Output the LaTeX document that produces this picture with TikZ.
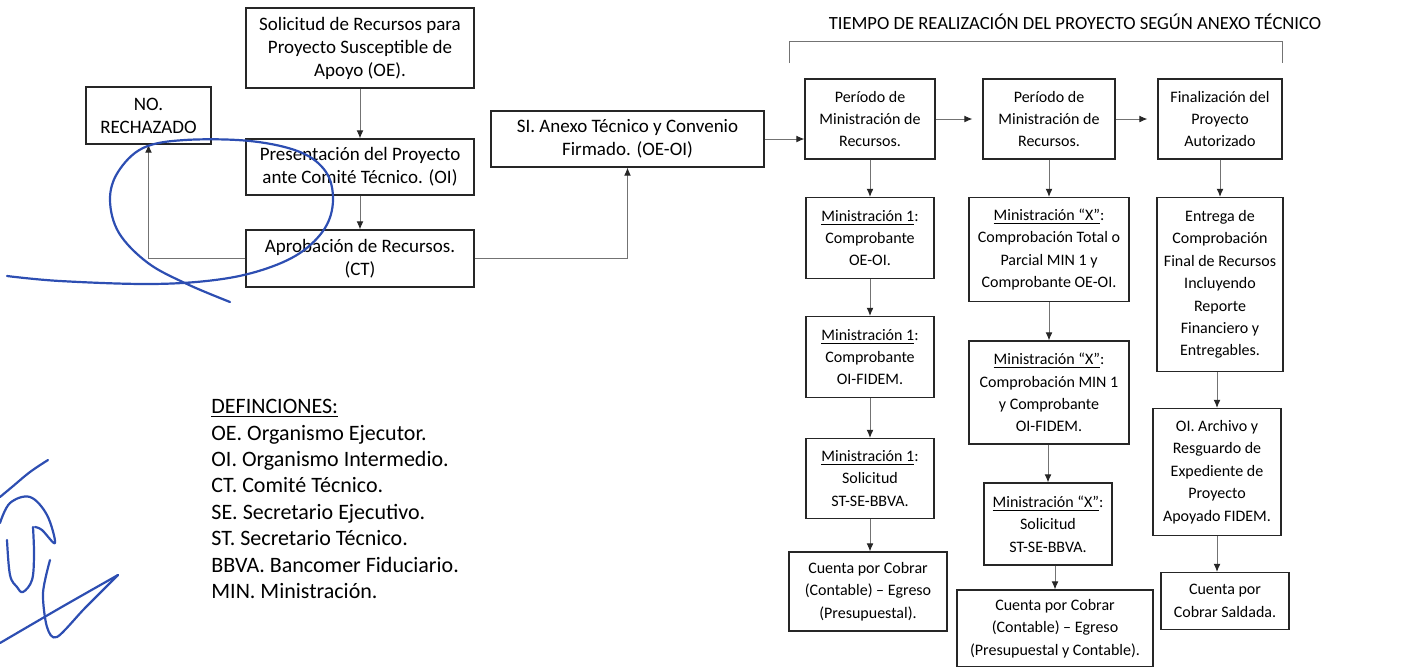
\documentclass[tikz,border=0pt]{standalone}
\usepackage{fontspec}
\setmainfont{Carlito}
\usetikzlibrary{arrows.meta}
\definecolor{ink}{RGB}{45,78,178}

\begin{document}
\begin{tikzpicture}[x=0.5pt, y=-0.5pt,
  lbox/.style={draw=black!85, line width=0.6pt, align=center, inner sep=0pt, font=\fontsize{9.5}{11.5}\selectfont},
  rbox/.style={lbox, font=\fontsize{8}{11.2}\selectfont},
  line/.style={draw=black!55, line width=0.5pt},
  arr/.style={line, -{Latex[length=4pt, width=3.4pt, color=black!85]}},
  sign/.style={draw=ink, line width=1.1pt, line cap=round, line join=round}]
\useasboundingbox (0,0) rectangle (1402,666);

% solicitud y aprobacion
\node[lbox, minimum width=114pt, minimum height=40pt] (solic) at (360,48) {Solicitud de Recursos para\\Proyecto Susceptible de\\Apoyo (OE).};
\node[lbox, minimum width=62.5pt, minimum height=28.5pt] (rechazo) at (148.5,115.5) {NO.\\RECHAZADO};
\node[lbox, minimum width=114pt, minimum height=28pt] (present) at (360,167) {Presentación del Proyecto\\ante Comité Técnico. (OI)};
\node[lbox, minimum width=114pt, minimum height=28.5pt] (aprob) at (360,258.5) {Aprobación de Recursos.\\(CT)};
\node[lbox, minimum width=136.5pt, minimum height=28pt] (convenio) at (627.5,139) {SI. Anexo Técnico y Convenio\\Firmado. (OE-OI)};

% tiempo de realizacion
\node[font=\fontsize{9.3}{11}\selectfont, inner sep=0pt] (tiempo) at (1075,22) {TIEMPO DE REALIZACIÓN DEL PROYECTO SEGÚN ANEXO TÉCNICO};
\draw[line] (789,63) -- (789,41) -- (1282,41) -- (1282,63);

\node[rbox, minimum width=65pt, minimum height=40pt] (per1) at (870,119) {Período de\\Ministración de\\Recursos.};
\node[rbox, minimum width=66pt, minimum height=40pt] (per2) at (1049,119) {Período de\\Ministración de\\Recursos.};
\node[rbox, minimum width=62pt, minimum height=40pt] (final) at (1220,119) {Finalización del\\Proyecto\\Autorizado};

\node[rbox, minimum width=64pt, minimum height=40.5pt] (min1a) at (870,238) {\underline{Ministración 1}:\\Comprobante\\OE-OI.};
\node[rbox, minimum width=64pt, minimum height=40.5pt] (min1b) at (870,357) {\underline{Ministración 1}:\\Comprobante\\OI-FIDEM.};
\node[rbox, minimum width=64pt, minimum height=40pt] (min1c) at (870,478.5) {\underline{Ministración 1}:\\Solicitud\\ST-SE-BBVA.};
\node[rbox, minimum width=79pt, minimum height=39.5pt] (cuenta1) at (868,591.5) {Cuenta por Cobrar\\(Contable) -- Egreso\\(Presupuestal).};

\node[rbox, minimum width=80pt, minimum height=52pt] (minxa) at (1049,249.5) {\underline{Ministración “X”}:\\Comprobación Total o\\Parcial MIN 1 y\\Comprobante OE-OI.};
\node[rbox, minimum width=80pt, minimum height=51.5pt] (minxb) at (1049,392.5) {\underline{Ministración “X”}:\\Comprobación MIN 1\\y Comprobante\\OI-FIDEM.};
\node[rbox, minimum width=64pt, minimum height=41pt] (minxc) at (1048,524) {\underline{Ministración “X”}:\\Solicitud\\ST-SE-BBVA.};
\node[rbox, minimum width=98pt, minimum height=38.5pt] (cuentax) at (1055,628.5) {Cuenta por Cobrar\\(Contable) -- Egreso\\(Presupuestal y Contable).};

\node[rbox, minimum width=63pt, minimum height=87pt] (entrega) at (1220,284.5) {Entrega de\\Comprobación\\Final de Recursos\\Incluyendo\\Reporte\\Financiero y\\Entregables.};
\node[rbox, minimum width=64pt, minimum height=63.5pt] (archivo) at (1217,472) {OI. Archivo y\\Resguardo de\\Expediente de\\Proyecto\\Apoyado FIDEM.};
\node[rbox, minimum width=64pt, minimum height=28.5pt] (saldada) at (1225,601) {Cuenta por\\Cobrar Saldada.};

% definiciones
\node[anchor=north west, align=left, inner sep=0pt, font=\fontsize{11}{13.2}\selectfont] (defs) at (211,399) {\underline{DEFINCIONES:}\\OE. Organismo Ejecutor.\\OI. Organismo Intermedio.\\CT. Comité Técnico.\\SE. Secretario Ejecutivo.\\ST. Secretario Técnico.\\BBVA. Bancomer Fiduciario.\\MIN. Ministración.};

% flechas
\draw[arr] (solic) -- (present);
\draw[arr] (present) -- (aprob);
\draw[arr] (aprob.west) -| (rechazo.south);
\draw[arr] (aprob.east) -| (convenio.south);
\draw[arr] (convenio.east) -- (convenio.east -| per1.west);
\draw[arr, shorten >=5pt] (per1) -- (per2);
\draw[arr, shorten >=5pt] (per2) -- (final);

\draw[arr] (per1) -- (min1a);
\draw[arr] (min1a) -- (min1b);
\draw[arr] (min1b) -- (min1c);
\draw[arr] (min1c.south) -- (min1c.south |- cuenta1.north);

\draw[arr] (per2) -- (minxa);
\draw[arr] (minxa) -- (minxb);
\draw[arr] (minxc.north |- minxb.south) -- (minxc.north);
\draw[arr] (cuentax.north |- minxc.south) -- (cuentax.north);

\draw[arr] (final) -- (entrega);
\draw[arr] (archivo.north |- entrega.south) -- (archivo.north);
\draw[arr] (archivo.south) -- (archivo.south |- saldada.north);

% firmas
\draw[sign] plot[smooth, tension=0.6] coordinates {(7,276) (60,281) (150,284) (215,280) (262,270) (300,253) (325,228) (333,200) (326,172) (300,152) (250,141) (185,140) (143,148) (118,172) (110,200) (119,233) (148,263) (187,284) (230,302)};
\draw[sign] plot[smooth, tension=0.6] coordinates {(48,460) (30,472) (12,487) (0,497)};
\draw[sign] plot[smooth, tension=0.6] coordinates {(0,523) (10,503) (30,497) (47,515) (55,543) (42,530) (35,527)};
\draw[sign] plot[smooth, tension=0.6] coordinates {(7,540) (10,575) (17,587) (23,592) (32,580) (34,555) (33,527)};
\draw[sign] plot[smooth, tension=0.5] coordinates {(50,560) (43,593) (47,627) (57,637) (85,608) (118,575)};
\draw[sign] plot[smooth, tension=0.5] coordinates {(0,643) (60,608) (118,575)};
\end{tikzpicture}
\end{document}
